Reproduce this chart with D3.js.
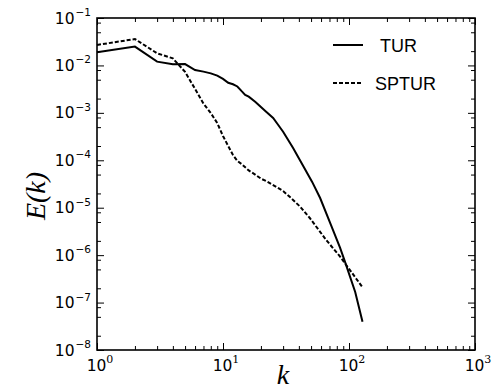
<!DOCTYPE html>
<html>
<head>
<meta charset="utf-8">
<script src="https://cdn.jsdelivr.net/npm/d3@7"></script>
<style>
  body { margin: 0; background: #fff; }
  svg { display: block; }
</style>
</head>
<body>
<div id="chart"></div>
<script>
// wavenumber / energy spectra
var kTUR = [1, 2, 3, 4, 5, 6, 7, 8, 9, 10, 11, 12, 13, 14, 15, 16, 18, 20, 22, 25, 27, 30, 36, 42, 51, 59, 72, 85, 93, 112, 128];
var eTUR = [0.019, 0.025, 0.012, 0.0106, 0.0107, 0.0080, 0.0074, 0.0068, 0.0061, 0.0052, 0.0043, 0.0040, 0.0036, 0.0029, 0.0024, 0.0022,
  0.00172, 0.00133, 0.00106, 0.00078, 0.00059, 0.00040, 0.000182, 8.8e-5, 3.5e-5, 1.6e-5, 4.3e-6, 1.42e-6, 7.2e-7, 1.67e-7, 3.95e-8];

var kSPTUR = [1, 2, 3, 4, 5, 6, 7, 8, 9, 10, 11, 12, 13, 14, 16, 18, 20, 22, 25, 30, 34, 41, 49, 66, 85, 128];
var eSPTUR = [0.027, 0.036, 0.018, 0.0141, 0.0073, 0.0032, 0.00157, 0.00099, 0.00061, 0.000325, 0.0002, 0.000129, 9.7e-5, 8.4e-5,
  6.1e-5, 5.0e-5, 4.1e-5, 3.66e-5, 3.0e-5, 2.25e-5, 1.68e-5, 1.05e-5, 6.0e-6, 2.08e-6, 9.3e-7, 2.1e-7];

var xExponents = [0, 1, 2, 3];
var yExponents = [-1, -2, -3, -4, -5, -6, -7, -8];
var seriesNames = ["TUR", "SPTUR"];

var W = 499, H = 385;
var m = { left: 97, right: 475, top: 18, bottom: 350 };

var svg = d3.select("#chart").append("svg")
  .attr("width", W)
  .attr("height", H);

var x = d3.scaleLog().domain([1, 1000]).range([m.left, m.right]);
var y = d3.scaleLog().domain([1e-8, 1e-1]).range([m.bottom, m.top]);

// tick positions
var xMajor = xExponents.map(function (e) { return Math.pow(10, e); });
var xMinor = [];
[0, 1, 2].forEach(function (e) {
  for (var s = 2; s <= 9; s++) xMinor.push(s * Math.pow(10, e));
});
var yMajor = yExponents.map(function (e) { return Math.pow(10, e); });
var yMinor = [];
[-8, -7, -6, -5, -4, -3, -2].forEach(function (e) {
  [2, 5, 8].forEach(function (s) { yMinor.push(s * Math.pow(10, e)); });
});

function tickAxis(axisFn, scale, values, size, tx, ty) {
  var g = svg.append("g")
    .attr("transform", "translate(" + tx + "," + ty + ")")
    .call(axisFn(scale).tickValues(values).tickSize(size).tickFormat(""));
  g.select(".domain").remove();
  g.selectAll("line").attr("stroke", "#000").attr("stroke-width", 1);
}

// inward ticks on all four sides
tickAxis(d3.axisBottom, x, xMajor, -7, 0, m.bottom);
tickAxis(d3.axisBottom, x, xMinor, -4, 0, m.bottom);
tickAxis(d3.axisTop, x, xMajor, -7, 0, m.top);
tickAxis(d3.axisTop, x, xMinor, -4, 0, m.top);
tickAxis(d3.axisLeft, y, yMajor, -7, m.left, 0);
tickAxis(d3.axisLeft, y, yMinor, -4, m.left, 0);
tickAxis(d3.axisRight, y, yMajor, -7, m.right, 0);
tickAxis(d3.axisRight, y, yMinor, -4, m.right, 0);

// frame
svg.append("rect")
  .attr("x", m.left).attr("y", m.top)
  .attr("width", m.right - m.left).attr("height", m.bottom - m.top)
  .attr("fill", "none").attr("stroke", "#000").attr("stroke-width", 1.6);

// lines
var line = d3.line()
  .x(function (d) { return x(d[0]); })
  .y(function (d) { return y(d[1]); });

var tur = d3.zip(kTUR, eTUR);
var sptur = d3.zip(kSPTUR, eSPTUR);

svg.append("path").datum(tur)
  .attr("d", line)
  .attr("fill", "none").attr("stroke", "#000").attr("stroke-width", 2);

svg.append("path").datum(sptur)
  .attr("d", line)
  .attr("fill", "none").attr("stroke", "#000").attr("stroke-width", 2)
  .attr("stroke-dasharray", "4,2");

// y tick labels
var ylab = svg.append("g")
  .attr("font-family", "DejaVu Sans")
  .attr("fill", "#000");
yExponents.forEach(function (e) {
  var t = ylab.append("text")
    .attr("x", m.left - 6)
    .attr("y", y(Math.pow(10, e)) + 5.5)
    .attr("text-anchor", "end")
    .attr("font-size", 15.5);
  t.append("tspan").text("10");
  t.append("tspan").attr("dx", 1).attr("dy", -7.5).attr("font-size", 10.5).text("\u2212" + Math.abs(e));
});

// x tick labels
var xlab = svg.append("g")
  .attr("font-family", "DejaVu Sans")
  .attr("fill", "#000");
xExponents.forEach(function (e) {
  var t = xlab.append("text")
    .attr("x", x(Math.pow(10, e)) + 3)
    .attr("y", m.bottom + 21)
    .attr("text-anchor", "middle")
    .attr("font-size", 15.5);
  t.append("tspan").text("10");
  t.append("tspan").attr("dy", -8).attr("font-size", 11)
    .attr("font-family", "DejaVu Serif").text(e);
});

// axis titles
svg.append("text")
  .attr("transform", "translate(45," + 196 + ") rotate(-90)")
  .attr("text-anchor", "middle")
  .attr("font-family", "Liberation Serif")
  .attr("font-style", "italic")
  .attr("font-size", 28)
  .text("E(k)");

svg.append("text")
  .attr("x", 283)
  .attr("y", 384)
  .attr("text-anchor", "middle")
  .attr("font-family", "Liberation Serif")
  .attr("font-style", "italic")
  .attr("font-size", 28)
  .text("k");

// legend
var legend = svg.append("g").attr("font-family", "Liberation Sans").attr("font-size", 18);
var legendY = [45, 83];
var legendTextX = [380, 375];
seriesNames.forEach(function (name, i) {
  legend.append("line")
    .attr("x1", 333).attr("x2", 363)
    .attr("y1", legendY[i]).attr("y2", legendY[i])
    .attr("stroke", "#000").attr("stroke-width", 2)
    .attr("stroke-dasharray", i === 1 ? "4,2" : null);
  legend.append("text")
    .attr("x", legendTextX[i])
    .attr("y", legendY[i] + 6.5)
    .text(name);
});
</script>
</body>
</html>
